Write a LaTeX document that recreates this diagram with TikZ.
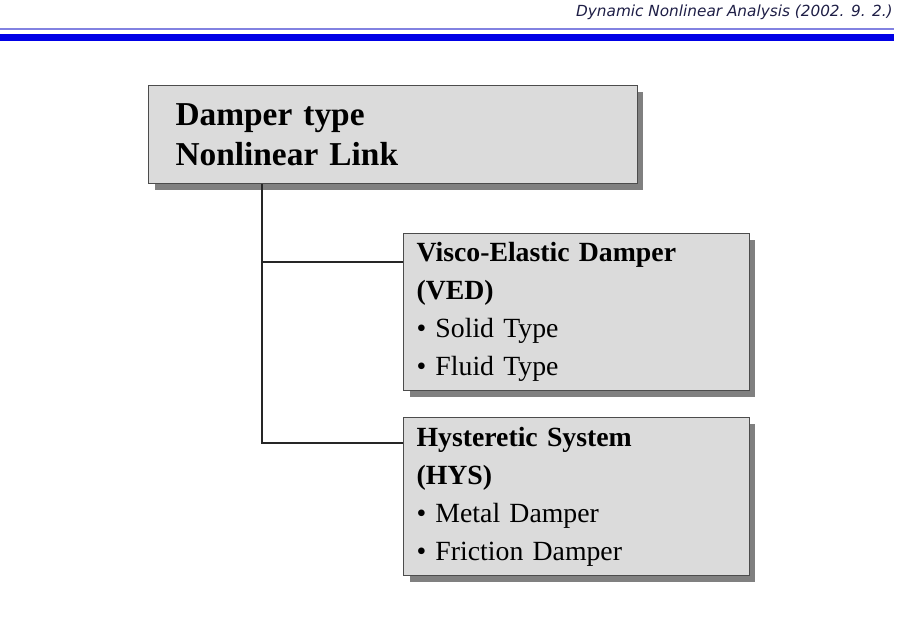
\documentclass[tikz,border=0pt]{standalone}
\usepackage{fontspec}
\setmainfont{Liberation Serif}
\newfontfamily\headfont{DejaVu Sans}
\usetikzlibrary{shadows}
\definecolor{barblue}{RGB}{0,0,230}
\definecolor{lineblue}{RGB}{130,130,225}
\definecolor{headtext}{RGB}{30,30,70}
\begin{document}
\begin{tikzpicture}[x=0.02cm, y=-0.02cm,
    dampbox/.style={draw=black!70, fill=black!14, line width=0.6pt,
      anchor=north west, align=left, inner ysep=0pt,
      drop shadow={shadow xshift=0.12cm, shadow yshift=-0.12cm,
        fill=black!50, opacity=1}},
    link/.style={draw=black!85, line width=0.9pt}]

    \useasboundingbox (0,0) rectangle (920,637);
    % header of the slide
    \node[anchor=east, inner sep=0pt, text=headtext,
      font=\headfont\itshape\fontsize{8.7}{10}\selectfont] (head) at (893,12)
      {Dynamic Nonlinear Analysis (2002. 9. 2.)};
    \draw[lineblue, line width=0.6pt] (0,29) -- (894,29);
    \fill[barblue] (0,34) rectangle (894,41);

    % the three boxes
    \node[dampbox, inner xsep=0.54cm, text width=8.70cm, minimum height=1.96cm,
      font=\fontsize{19}{22.8}\selectfont\bfseries] (root) at (148,85)
      {Damper type\\Nonlinear Link};
    \node[dampbox, inner xsep=0.26cm, text width=6.40cm, minimum height=3.14cm,
      font=\fontsize{15.8}{21.6}\selectfont] (ved) at (403,233)
      {\textbf{Visco-Elastic Damper}\\\textbf{(VED)}\\\textbullet{} Solid Type\\\textbullet{} Fluid Type};
    \node[dampbox, inner xsep=0.26cm, text width=6.40cm, minimum height=3.16cm,
      font=\fontsize{15.8}{21.6}\selectfont] (hys) at (403,417)
      {\textbf{Hysteretic System}\\\textbf{(HYS)}\\\textbullet{} Metal Damper\\\textbullet{} Friction Damper};

    % the tree lines
    \coordinate (trunk) at ([xshift=2.28cm]root.south west);
    \coordinate (vedin) at ([yshift=-0.58cm]ved.north west);
    \coordinate (hysin) at ([yshift=-0.52cm]hys.north west);
    \draw[link] (trunk) |- (hysin);
    \draw[link] (trunk |- vedin) -- (vedin);
  \end{tikzpicture}
\end{document}
